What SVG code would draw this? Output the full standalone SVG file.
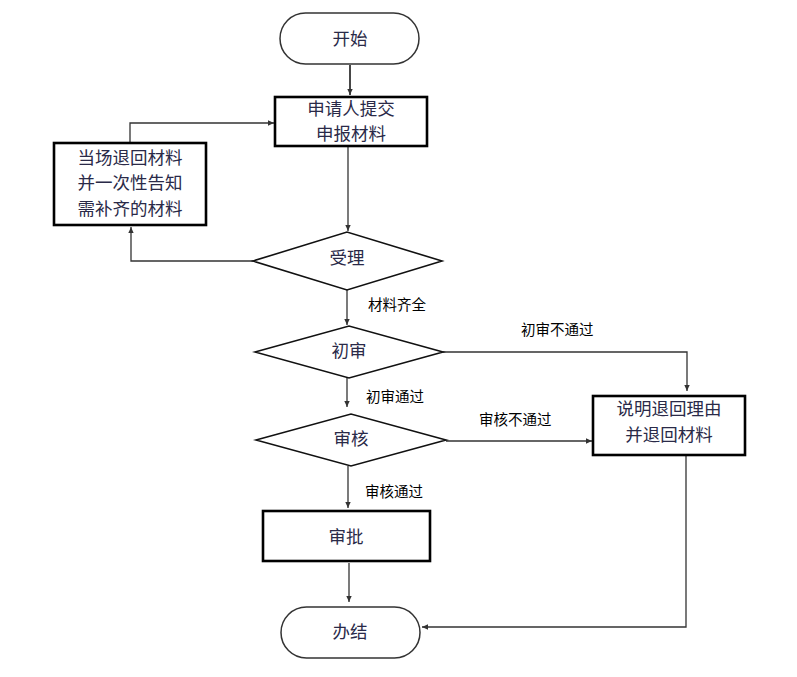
<svg xmlns="http://www.w3.org/2000/svg" width="797" height="677" viewBox="0 0 797 677">
<style>
.term{fill:#fff;stroke:#333;stroke-width:1.5}
.box{fill:#fff;stroke:#000;stroke-width:2.6}
.dia{fill:#fff;stroke:#111;stroke-width:1.6}
.nt{font-family:"Liberation Serif","Noto Sans CJK SC",serif;font-size:17.5px;fill:#2a2a48;text-anchor:middle;dominant-baseline:central}
.lb{font-family:"Liberation Sans","Noto Sans CJK SC",sans-serif;font-size:14.5px;fill:#000;dominant-baseline:central}
.cn{fill:none;stroke:#333;stroke-width:1.3;marker-end:url(#ah)}
</style>
<defs>
<marker id="ah" viewBox="0 0 10 10" refX="9" refY="5" markerWidth="7" markerHeight="7" markerUnits="userSpaceOnUse" orient="auto">
<path d="M0,1 L9,5 L0,9 z" fill="#333"/>
</marker>
</defs>
<rect width="797" height="677" fill="#fff"/>
<g id="connectors">
<path class="cn" d="M350,65 V95" style="stroke-width:1.8"/>
<path class="cn" d="M130,143 V123 H274"/>
<path class="cn" d="M348,147 V231"/>
<path class="cn" d="M253,261 H131 V227"/>
<path class="cn" d="M347,289 V325"/>
<path class="cn" d="M443,352 H687 V391"/>
<path class="cn" d="M347,378 V407"/>
<path class="cn" d="M446,441 H592"/>
<path class="cn" d="M348,466 V508"/>
<path class="cn" d="M349,563 V602"/>
<path class="cn" d="M686,456 V627 H422"/>
</g>
<g id="labels">
<text class="lb" x="368" y="305">材料齐全</text>
<text class="lb" x="521" y="330">初审不通过</text>
<text class="lb" x="366" y="397">初审通过</text>
<text class="lb" x="479" y="420">审核不通过</text>
<text class="lb" x="365" y="492">审核通过</text>
</g>
<g id="start">
<rect class="term" x="280" y="13" width="139" height="51" rx="25.5"/>
<text class="nt" x="350" y="39">开始</text>
</g>
<g id="submit">
<rect class="box" x="275" y="97" width="152" height="49"/>
<text class="nt" x="351" y="109">申请人提交</text>
<text class="nt" x="351" y="134">申报材料</text>
</g>
<g id="return-now">
<rect class="box" x="54" y="143" width="152" height="82"/>
<text class="nt" x="130" y="158">当场退回材料</text>
<text class="nt" x="130" y="183">并一次性告知</text>
<text class="nt" x="130" y="209">需补齐的材料</text>
</g>
<g id="accept">
<polygon class="dia" points="253,261 347,232 442,261 347,290"/>
<text class="nt" x="347" y="258">受理</text>
</g>
<g id="first-review">
<polygon class="dia" points="255,352 349,326 443,352 349,378"/>
<text class="nt" x="349" y="351">初审</text>
</g>
<g id="audit">
<polygon class="dia" points="256,440 351,414 446,440 351,466"/>
<text class="nt" x="351" y="439">审核</text>
</g>
<g id="explain">
<rect class="box" x="593" y="396" width="152" height="59"/>
<text class="nt" x="669" y="409">说明退回理由</text>
<text class="nt" x="669" y="435">并退回材料</text>
</g>
<g id="approve">
<rect class="box" x="263" y="511" width="167" height="50"/>
<text class="nt" x="346" y="537">审批</text>
</g>
<g id="end">
<rect class="term" x="281" y="607" width="139" height="51" rx="25.5"/>
<text class="nt" x="350" y="632">办结</text>
</g>
</svg>
